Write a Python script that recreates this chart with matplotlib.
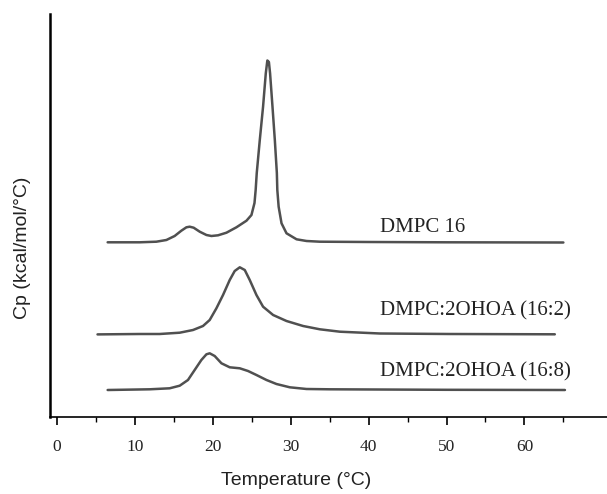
import matplotlib.pyplot as plt

# DSC traces (Cp in arbitrary stacked units)
t_dmpc = [6.5, 10.6, 12.75, 14.04, 15.10, 15.96, 16.61, 17.03, 17.54, 18.32,
          19.18, 19.82, 20.67, 21.75, 23.03, 24.32, 24.96, 25.35, 25.50, 25.64,
          26.03, 26.45, 26.80, 27.0, 27.2, 27.35, 27.66, 27.96, 28.22, 28.28,
          28.45, 28.82, 29.46, 30.75, 32.03, 33.74, 40.0, 50.0, 65.0]
cp_dmpc = [174.7, 174.7, 175.3, 177.0, 181.0, 186.3, 189.7, 190.3, 189.3, 185.3,
           182.0, 181.0, 181.7, 184.3, 189.7, 196.3, 202.0, 214.0, 227.0, 244.0,
           277.0, 310.3, 343.7, 356.5, 355.0, 343.7, 310.3, 277.0, 244.0, 227.0,
           210.3, 193.7, 183.7, 177.7, 176.0, 175.3, 175.0, 174.7, 174.5]

t_162 = [5.2, 10.6, 13.17, 15.75, 17.46, 18.74, 19.60, 20.46, 21.31, 22.17,
         22.81, 23.46, 24.10, 24.74, 25.60, 26.45, 27.74, 29.46, 31.59, 33.74,
         36.31, 41.45, 50.4, 63.9]
cp_162 = [82.6, 83.0, 83.0, 84.3, 87.0, 91.0, 97.0, 108.7, 122.0, 137.0,
          146.0, 149.7, 147.0, 137.0, 122.0, 110.3, 102.0, 96.0, 91.0, 87.7,
          85.3, 83.5, 83.0, 82.7]

t_168 = [6.5, 11.89, 14.46, 15.75, 16.81, 17.67, 18.53, 19.18, 19.60, 20.24,
         21.11, 22.17, 23.46, 24.52, 25.60, 26.89, 28.17, 29.88, 32.03, 35.02,
         50.0, 65.2]
cp_168 = [27.0, 27.7, 28.7, 31.3, 37.0, 47.0, 57.0, 62.7, 63.7, 61.0,
          53.7, 49.7, 48.7, 46.0, 42.0, 37.0, 33.0, 29.7, 28.0, 27.7,
          27.2, 27.0]

labels = ["DMPC 16", "DMPC:2OHOA (16:2)", "DMPC:2OHOA (16:8)"]
label_t = 41.5
label_cp = [190, 106, 45]

x_major = [0, 10, 20, 30, 40, 50, 60]
x_minor = [5, 15, 25, 35, 45, 55, 65]

fig = plt.figure(figsize=(6.07, 4.94), dpi=100)
ax = fig.add_axes([50 / 607, 77 / 494, 557 / 607, 403 / 494])

for t, cp in [(t_dmpc, cp_dmpc), (t_162, cp_162), (t_168, cp_168)]:
    ax.plot(t, cp, color="#505050", lw=1.8, solid_joinstyle="round",
            solid_capstyle="round")

for lab, yv in zip(labels, label_cp):
    ax.text(label_t, yv, lab, fontsize=15, family="Liberation Serif",
            color="#222222", va="center", ha="left")

ax.set_xlim(-0.9, 70.6)
ax.set_ylim(0, 403)
ax.spines["top"].set_visible(False)
ax.spines["right"].set_visible(False)
ax.spines["left"].set_linewidth(1.8)
ax.spines["bottom"].set_linewidth(1.2)
ax.set_yticks([])
ax.set_xticks(x_major, [str(v) for v in x_major], fontsize=12.5,
              fontfamily="Liberation Serif", color="#222222")
ax.set_xticks(x_minor, minor=True)
ax.tick_params(axis="x", which="major", length=6, width=1.2, pad=10)
ax.tick_params(axis="x", which="minor", length=3.5, width=1.0)

fig.text(296 / 607, 1 - 480 / 494, "Temperature (°C)", fontsize=14,
         family="Liberation Sans", ha="center", va="center", color="#222222")
fig.text(23 / 607, 1 - 248 / 494, "Cp (kcal/mol/°C)", fontsize=14,
         family="Liberation Sans", ha="center", va="center", rotation=90,
         color="#222222")

fig.savefig("out.png", dpi=100)
